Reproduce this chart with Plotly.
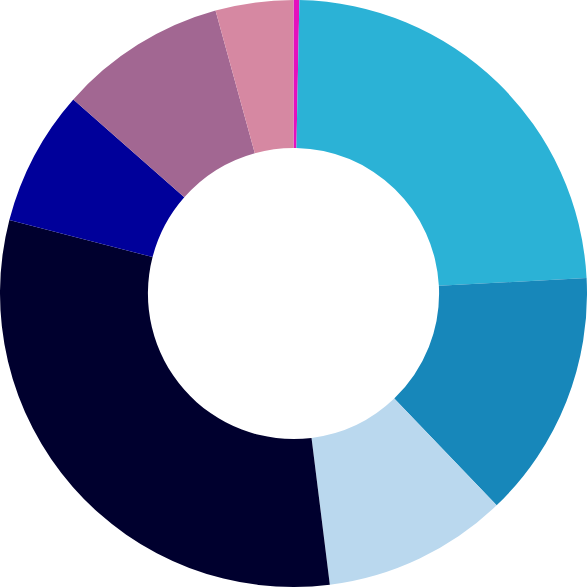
import plotly.graph_objects as go

labels = ["Magenta", "Light blue", "Medium blue", "Pale blue", "Navy", "Dark blue", "Mauve", "Pink"]
values = [0.32, 23.84, 13.67, 10.19, 31.0, 7.47, 9.22, 4.28]
colors = ["#E411BE", "#2BB2D6", "#1787BA", "#BAD8EE", "#00002E", "#00009A", "#A26792", "#D688A2"]

fig = go.Figure(go.Pie(
    labels=labels,
    values=values,
    hole=0.496,
    sort=False,
    direction="clockwise",
    rotation=0,
    textinfo="none",
    marker=dict(colors=colors, line=dict(width=0)),
    showlegend=False,
))
fig.update_layout(
    width=587, height=587,
    margin=dict(l=0, r=0, t=0, b=0),
    paper_bgcolor="white",
    plot_bgcolor="white",
)
fig.write_html(
    "out.html",
    config={"displayModeBar": False},
    post_script="document.body.style.margin='0';document.body.style.overflow='hidden';",
)
